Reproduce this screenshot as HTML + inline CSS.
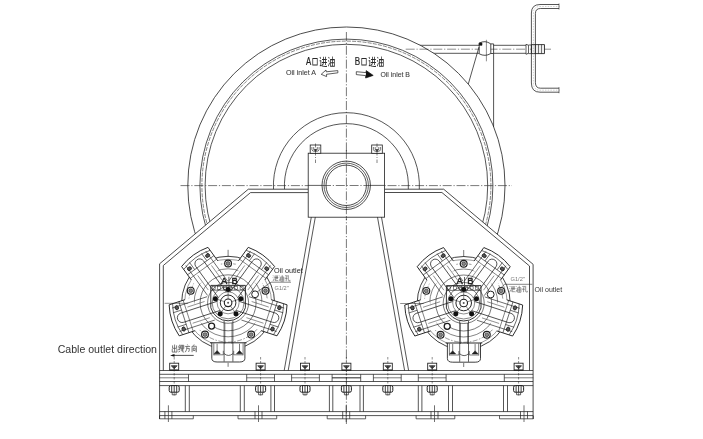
<!DOCTYPE html>
<html><head><meta charset="utf-8"><style>
html,body{margin:0;padding:0;background:#fff;width:703px;height:439px;overflow:hidden}
svg{display:block;will-change:transform}
</style></head><body>
<svg width="703" height="439" viewBox="0 0 703 439" font-family="Liberation Sans, sans-serif">
<defs>
<g id="motor" fill="none" stroke="#1e1e1e" stroke-width="0.8">
<circle r="46.5" fill="#fff" stroke-width="0.85"/>
<circle r="43.5" stroke-width="0.45"/>
<circle r="39.3" stroke-width="0.45" stroke-dasharray="5 1.5 1.5 1.5"/>
<circle r="34" stroke-width="0.55"/>
<circle r="28" stroke-width="0.6"/>
<circle r="20.5" stroke-width="0.6"/>
<g transform="rotate(-36)">
<path d="M-16.3 -32 V-56.70 A59 59 0 0 1 16.3 -56.70 V-32 Z" fill="#fff" stroke="none"/>
<path d="M-16.3 -40 V-56.70 A59 59 0 0 1 16.3 -56.70 V-40" stroke-width="0.85"/>
<path d="M-16.23 -53.07 A55.5 55.5 0 0 1 16.23 -53.07" stroke-width="0.6"/>
<path d="M-16.3 -46.5 H16.3" stroke-width="0.6"/>
<path d="M-16.3 -42 H16.3" stroke-width="0.5"/>
<path d="M-12.3 -55 V-18 M12.3 -55 V-18" stroke-width="0.6"/>
<path d="M-7.5 -55.4 V-46.5 M7.5 -55.4 V-46.5" stroke-width="0.6"/>
<path d="M-4.8 -10 V-48.3 A4.8 4.8 0 0 1 4.8 -48.3 V-10" stroke-width="0.7"/>
<path d="M-8.5 -40 V-22 M8.5 -40 V-22" stroke-width="0.45"/>
<ellipse cx="-11.2" cy="-50.3" rx="2.1" ry="1.7" fill="#555" stroke-width="0.85"/>
<ellipse cx="11.2" cy="-50.3" rx="2.1" ry="1.7" fill="#555" stroke-width="0.85"/>
</g>
<g transform="rotate(36)">
<path d="M-16.3 -32 V-56.70 A59 59 0 0 1 16.3 -56.70 V-32 Z" fill="#fff" stroke="none"/>
<path d="M-16.3 -40 V-56.70 A59 59 0 0 1 16.3 -56.70 V-40" stroke-width="0.85"/>
<path d="M-16.23 -53.07 A55.5 55.5 0 0 1 16.23 -53.07" stroke-width="0.6"/>
<path d="M-16.3 -46.5 H16.3" stroke-width="0.6"/>
<path d="M-16.3 -42 H16.3" stroke-width="0.5"/>
<path d="M-12.3 -55 V-18 M12.3 -55 V-18" stroke-width="0.6"/>
<path d="M-7.5 -55.4 V-46.5 M7.5 -55.4 V-46.5" stroke-width="0.6"/>
<path d="M-4.8 -10 V-48.3 A4.8 4.8 0 0 1 4.8 -48.3 V-10" stroke-width="0.7"/>
<path d="M-8.5 -40 V-22 M8.5 -40 V-22" stroke-width="0.45"/>
<ellipse cx="-11.2" cy="-50.3" rx="2.1" ry="1.7" fill="#555" stroke-width="0.85"/>
<ellipse cx="11.2" cy="-50.3" rx="2.1" ry="1.7" fill="#555" stroke-width="0.85"/>
</g>
<g transform="rotate(108)">
<path d="M-16.3 -32 V-56.70 A59 59 0 0 1 16.3 -56.70 V-32 Z" fill="#fff" stroke="none"/>
<path d="M-16.3 -40 V-56.70 A59 59 0 0 1 16.3 -56.70 V-40" stroke-width="0.85"/>
<path d="M-16.23 -53.07 A55.5 55.5 0 0 1 16.23 -53.07" stroke-width="0.6"/>
<path d="M-16.3 -46.5 H16.3" stroke-width="0.6"/>
<path d="M-16.3 -42 H16.3" stroke-width="0.5"/>
<path d="M-12.3 -55 V-18 M12.3 -55 V-18" stroke-width="0.6"/>
<path d="M-7.5 -55.4 V-46.5 M7.5 -55.4 V-46.5" stroke-width="0.6"/>
<path d="M-4.8 -10 V-48.3 A4.8 4.8 0 0 1 4.8 -48.3 V-10" stroke-width="0.7"/>
<path d="M-8.5 -40 V-22 M8.5 -40 V-22" stroke-width="0.45"/>
<ellipse cx="-11.2" cy="-50.3" rx="2.1" ry="1.7" fill="#555" stroke-width="0.85"/>
<ellipse cx="11.2" cy="-50.3" rx="2.1" ry="1.7" fill="#555" stroke-width="0.85"/>
</g>
<g transform="rotate(252)">
<path d="M-16.3 -32 V-56.70 A59 59 0 0 1 16.3 -56.70 V-32 Z" fill="#fff" stroke="none"/>
<path d="M-16.3 -40 V-56.70 A59 59 0 0 1 16.3 -56.70 V-40" stroke-width="0.85"/>
<path d="M-16.23 -53.07 A55.5 55.5 0 0 1 16.23 -53.07" stroke-width="0.6"/>
<path d="M-16.3 -46.5 H16.3" stroke-width="0.6"/>
<path d="M-16.3 -42 H16.3" stroke-width="0.5"/>
<path d="M-12.3 -55 V-18 M12.3 -55 V-18" stroke-width="0.6"/>
<path d="M-7.5 -55.4 V-46.5 M7.5 -55.4 V-46.5" stroke-width="0.6"/>
<path d="M-4.8 -10 V-48.3 A4.8 4.8 0 0 1 4.8 -48.3 V-10" stroke-width="0.7"/>
<path d="M-8.5 -40 V-22 M8.5 -40 V-22" stroke-width="0.45"/>
<ellipse cx="-11.2" cy="-50.3" rx="2.1" ry="1.7" fill="#555" stroke-width="0.85"/>
<ellipse cx="11.2" cy="-50.3" rx="2.1" ry="1.7" fill="#555" stroke-width="0.85"/>
</g>
<path d="M-16.3 40 V55.5 Q-16.3 59.2 -11 59.2 H11.5 Q16.8 59.2 16.8 55.5 V40" fill="#fff" stroke-width="0.85"/>
<path d="M-18 40 H18.5" stroke-width="0.95"/>
<path d="M-14.3 40.5 V52.5 M15 40.5 V52.5" stroke-width="0.6"/>
<path d="M-4 18 V58.8 M4.8 18 V58.8 M-4 50.8 Q0.4 54.5 4.8 50.8" stroke-width="0.7"/>
<path d="M-3.2 20 V41 M3.8 20 V41" stroke-width="0.5"/>
<path d="M-14.3 52 H-4.8 V48 M14.9 52 H5.6 V48" stroke-width="0.6"/>
<path d="M-14 50.9 L-11 47.8 L-8 50.9 Z M14.4 50.9 L11.4 47.8 L8.4 50.9 Z" fill="#222" stroke-width="0.5"/>
<path d="M-11 41 V48 M11.4 41 V48" stroke-width="0.6"/>
<path d="M-17.3 -17.4 H17.3 V4.97 A18 18 0 0 1 -17.3 4.97 Z" fill="none" stroke-width="0.9"/>
<path d="M-17.3 -12.6 H17.3" stroke-width="0.6"/>
<rect x="-16.0" y="-16.4" width="3" height="3" stroke-width="0.5"/>
<rect x="-10.4" y="-16.4" width="3" height="3" stroke-width="0.5"/>
<rect x="-4.8" y="-16.4" width="3" height="3" stroke-width="0.5"/>
<rect x="0.8" y="-16.4" width="3" height="3" stroke-width="0.5"/>
<rect x="6.4" y="-16.4" width="3" height="3" stroke-width="0.5"/>
<rect x="12.0" y="-16.4" width="3" height="3" stroke-width="0.5"/>
<circle r="16" stroke-width="0.55"/>
<circle r="11" stroke-width="0.5"/>
<circle r="7.8" stroke-width="0.95"/>
<circle r="3.8" stroke-width="1.1"/>
<circle r="1" fill="#555" stroke="none"/>
<path d="M0.00 -3.80 L0.00 -11.00" stroke-width="0.5"/>
<path d="M3.61 -1.17 L10.46 -3.40" stroke-width="0.5"/>
<path d="M2.23 3.07 L6.47 8.90" stroke-width="0.5"/>
<path d="M-2.23 3.07 L-6.47 8.90" stroke-width="0.5"/>
<path d="M-3.61 -1.17 L-10.46 -3.40" stroke-width="0.5"/>
<circle cx="0.00" cy="-13.40" r="2.5" fill="#111" stroke="none"/>
<circle cx="0.00" cy="-39.30" r="3.4" fill="#fff" stroke-width="1.15"/>
<circle cx="0.00" cy="-39.30" r="1.9" fill="#888" stroke-width="0.6"/>
<circle cx="12.74" cy="-4.14" r="2.5" fill="#111" stroke="none"/>
<circle cx="37.38" cy="-12.14" r="3.4" fill="#fff" stroke-width="1.15"/>
<circle cx="37.38" cy="-12.14" r="1.9" fill="#888" stroke-width="0.6"/>
<circle cx="7.88" cy="10.84" r="2.5" fill="#111" stroke="none"/>
<circle cx="23.10" cy="31.79" r="3.4" fill="#fff" stroke-width="1.15"/>
<circle cx="23.10" cy="31.79" r="1.9" fill="#888" stroke-width="0.6"/>
<circle cx="-7.88" cy="10.84" r="2.5" fill="#111" stroke="none"/>
<circle cx="-23.10" cy="31.79" r="3.4" fill="#fff" stroke-width="1.15"/>
<circle cx="-23.10" cy="31.79" r="1.9" fill="#888" stroke-width="0.6"/>
<circle cx="-12.74" cy="-4.14" r="2.5" fill="#111" stroke="none"/>
<circle cx="-37.38" cy="-12.14" r="3.4" fill="#fff" stroke-width="1.15"/>
<circle cx="-37.38" cy="-12.14" r="1.9" fill="#888" stroke-width="0.6"/>
<circle cx="27" cy="-8.5" r="3.4" fill="#fff" stroke-width="1"/>
<circle cx="-16.5" cy="23.3" r="3" fill="#fff" stroke-width="1.3"/>
<text x="-4.1" y="-18.9" font-family="Liberation Sans, sans-serif" font-size="9.4" fill="#222" stroke="#222" stroke-width="0.45" text-anchor="middle">A</text>
<text x="6.6" y="-18.9" font-family="Liberation Sans, sans-serif" font-size="9.4" fill="#222" stroke="#222" stroke-width="0.45" text-anchor="middle">B</text>
<path d="M0.8 -18 V-26" stroke-width="0.7"/>
<path d="M0 -53 V-46 M0 60 V64" stroke-width="0.6"/>
<path d="M-63.5 0.5 H-40" stroke-width="0.5"/>
</g>
</defs>
<g fill="none">
<path d="M415 45.3 H479.2 M415 53.3 H479.2 M493.6 45.3 H528.2 M493.6 53.3 H528.2" fill="none" stroke="#1e1e1e" stroke-width="0.75" />
<circle cx="346.40" cy="185.60" r="158.60" fill="#fff" stroke="#1e1e1e" stroke-width="0.8"/>
<circle cx="346.40" cy="185.60" r="146.50" fill="none" stroke="#1e1e1e" stroke-width="0.75"/>
<circle cx="346.4" cy="185.6" r="144.5" fill="none" stroke="#333" stroke-width="0.6" stroke-dasharray="4 1.2"/>
<circle cx="346.40" cy="185.60" r="141.30" fill="none" stroke="#1e1e1e" stroke-width="0.75"/>
<path d="M273.50 189.5 A73 73 0 1 1 419.30 189.5" fill="none" stroke="#1e1e1e" stroke-width="0.75" />
<path d="M284.52 189.5 A62 62 0 1 1 408.28 189.5" fill="none" stroke="#1e1e1e" stroke-width="0.75" />
<polygon points="308.20,189.20 248.30,189.20 159.60,263.80 159.60,419.00 533.10,419.00 533.10,264.30 443.70,189.20 384.60,189.20 384.60,220.00 308.20,220.00" fill="#fff" stroke="none"/>
<polyline points="308.20,189.20 248.30,189.20 159.60,263.80 159.60,419.00" fill="none" stroke="#1e1e1e" stroke-width="0.8"/>
<polyline points="308.20,192.60 250.50,192.60 163.30,265.50 163.30,370.50" fill="none" stroke="#1e1e1e" stroke-width="0.8"/>
<polyline points="384.60,189.20 443.70,189.20 533.10,264.30 533.10,419.00" fill="none" stroke="#1e1e1e" stroke-width="0.8"/>
<polyline points="384.60,192.50 441.90,192.50 529.50,266.00 529.50,370.50" fill="none" stroke="#1e1e1e" stroke-width="0.8"/>
<line x1="180.50" y1="185.60" x2="512.00" y2="185.60" stroke="#1e1e1e" stroke-width="0.6" stroke-dasharray="9 1.8 1.2 1.8"/>
<line x1="346.40" y1="32.00" x2="346.40" y2="424.00" stroke="#1e1e1e" stroke-width="0.6" stroke-dasharray="9 1.8 1.2 1.8"/>
<rect x="308.20" y="153.20" width="76.40" height="64.00" fill="#fff" stroke="#1e1e1e" stroke-width="0.8"/>
<path d="M308.2 185.4 H322 M370.4 185.4 H384.6" fill="none" stroke="#1e1e1e" stroke-width="0.7" />
<circle cx="346.20" cy="185.30" r="24.20" fill="none" stroke="#1e1e1e" stroke-width="0.8"/>
<circle cx="346.20" cy="185.30" r="22.20" fill="none" stroke="#1e1e1e" stroke-width="0.7"/>
<circle cx="346.20" cy="185.30" r="20.20" fill="none" stroke="#1e1e1e" stroke-width="0.8"/>
<line x1="322.00" y1="185.50" x2="371.00" y2="185.50" stroke="#1e1e1e" stroke-width="0.6" stroke-dasharray="9 1.8 1.2 1.8"/>
<rect x="310.20" y="145.00" width="10.60" height="8.30" fill="#fff" stroke="#1e1e1e" stroke-width="0.8"/>
<path d="M311.9 147 V149.5 Q311.9 151.5 315.5 151.5 Q319.1 151.5 319.1 149.5 V147 M313.7 147 V149.5 M317.3 147 V149.5" fill="none" stroke="#1e1e1e" stroke-width="0.6" />
<path d="M313.9 149.4 L315.5 151.6 L317.1 149.4 Z" fill="#333" stroke="#1e1e1e" stroke-width="0.5" />
<line x1="315.50" y1="143.50" x2="315.50" y2="163.00" stroke="#1e1e1e" stroke-width="0.55" stroke-dasharray="4 1.5 1 1.5"/>
<rect x="371.70" y="145.00" width="10.60" height="8.30" fill="#fff" stroke="#1e1e1e" stroke-width="0.8"/>
<path d="M373.4 147 V149.5 Q373.4 151.5 377.0 151.5 Q380.6 151.5 380.6 149.5 V147 M375.2 147 V149.5 M378.8 147 V149.5" fill="none" stroke="#1e1e1e" stroke-width="0.6" />
<path d="M375.4 149.4 L377.0 151.6 L378.6 149.4 Z" fill="#333" stroke="#1e1e1e" stroke-width="0.5" />
<line x1="377.00" y1="143.50" x2="377.00" y2="163.00" stroke="#1e1e1e" stroke-width="0.55" stroke-dasharray="4 1.5 1 1.5"/>
<line x1="346.40" y1="150.00" x2="346.40" y2="220.00" stroke="#1e1e1e" stroke-width="0.6" stroke-dasharray="9 1.8 1.2 1.8"/>
<line x1="311.30" y1="217.20" x2="284.20" y2="370.50" stroke="#1e1e1e" stroke-width="0.75" />
<line x1="381.50" y1="217.20" x2="408.60" y2="370.50" stroke="#1e1e1e" stroke-width="0.75" />
<line x1="315.30" y1="217.20" x2="288.20" y2="370.50" stroke="#1e1e1e" stroke-width="0.75" />
<line x1="377.50" y1="217.20" x2="404.60" y2="370.50" stroke="#1e1e1e" stroke-width="0.75" />
<line x1="159.60" y1="370.50" x2="533.10" y2="370.50" stroke="#1e1e1e" stroke-width="0.75" />
<line x1="159.60" y1="374.30" x2="533.10" y2="374.30" stroke="#1e1e1e" stroke-width="0.75" />
<line x1="159.60" y1="381.50" x2="533.10" y2="381.50" stroke="#1e1e1e" stroke-width="0.75" />
<line x1="159.60" y1="385.60" x2="533.10" y2="385.60" stroke="#1e1e1e" stroke-width="0.75" />
<line x1="188.50" y1="374.30" x2="188.50" y2="381.50" stroke="#1e1e1e" stroke-width="0.7" />
<line x1="504.30" y1="374.30" x2="504.30" y2="381.50" stroke="#1e1e1e" stroke-width="0.7" />
<line x1="246.70" y1="374.30" x2="246.70" y2="381.50" stroke="#1e1e1e" stroke-width="0.7" />
<line x1="446.10" y1="374.30" x2="446.10" y2="381.50" stroke="#1e1e1e" stroke-width="0.7" />
<line x1="274.50" y1="374.30" x2="274.50" y2="381.50" stroke="#1e1e1e" stroke-width="0.7" />
<line x1="418.30" y1="374.30" x2="418.30" y2="381.50" stroke="#1e1e1e" stroke-width="0.7" />
<line x1="291.60" y1="374.30" x2="291.60" y2="381.50" stroke="#1e1e1e" stroke-width="0.7" />
<line x1="401.20" y1="374.30" x2="401.20" y2="381.50" stroke="#1e1e1e" stroke-width="0.7" />
<line x1="319.40" y1="374.30" x2="319.40" y2="381.50" stroke="#1e1e1e" stroke-width="0.7" />
<line x1="373.40" y1="374.30" x2="373.40" y2="381.50" stroke="#1e1e1e" stroke-width="0.7" />
<line x1="332.10" y1="374.30" x2="332.10" y2="381.50" stroke="#1e1e1e" stroke-width="0.7" />
<line x1="360.70" y1="374.30" x2="360.70" y2="381.50" stroke="#1e1e1e" stroke-width="0.7" />
<line x1="159.50" y1="377.80" x2="188.50" y2="377.80" stroke="#1e1e1e" stroke-width="0.6" />
<line x1="533.30" y1="377.80" x2="504.30" y2="377.80" stroke="#1e1e1e" stroke-width="0.6" />
<line x1="246.70" y1="377.80" x2="274.50" y2="377.80" stroke="#1e1e1e" stroke-width="0.6" />
<line x1="446.10" y1="377.80" x2="418.30" y2="377.80" stroke="#1e1e1e" stroke-width="0.6" />
<line x1="291.60" y1="377.80" x2="319.40" y2="377.80" stroke="#1e1e1e" stroke-width="0.6" />
<line x1="401.20" y1="377.80" x2="373.40" y2="377.80" stroke="#1e1e1e" stroke-width="0.6" />
<line x1="332.10" y1="377.80" x2="360.70" y2="377.80" stroke="#1e1e1e" stroke-width="0.6" />
<line x1="360.70" y1="377.80" x2="332.10" y2="377.80" stroke="#1e1e1e" stroke-width="0.6" />
<line x1="185.30" y1="385.60" x2="185.30" y2="411.60" stroke="#1e1e1e" stroke-width="0.75" />
<line x1="507.50" y1="385.60" x2="507.50" y2="411.60" stroke="#1e1e1e" stroke-width="0.75" />
<line x1="189.30" y1="385.60" x2="189.30" y2="411.60" stroke="#1e1e1e" stroke-width="0.75" />
<line x1="503.50" y1="385.60" x2="503.50" y2="411.60" stroke="#1e1e1e" stroke-width="0.75" />
<line x1="240.30" y1="385.60" x2="240.30" y2="411.60" stroke="#1e1e1e" stroke-width="0.75" />
<line x1="452.50" y1="385.60" x2="452.50" y2="411.60" stroke="#1e1e1e" stroke-width="0.75" />
<line x1="244.30" y1="385.60" x2="244.30" y2="411.60" stroke="#1e1e1e" stroke-width="0.75" />
<line x1="448.50" y1="385.60" x2="448.50" y2="411.60" stroke="#1e1e1e" stroke-width="0.75" />
<line x1="270.90" y1="385.60" x2="270.90" y2="411.60" stroke="#1e1e1e" stroke-width="0.75" />
<line x1="421.90" y1="385.60" x2="421.90" y2="411.60" stroke="#1e1e1e" stroke-width="0.75" />
<line x1="274.50" y1="385.60" x2="274.50" y2="411.60" stroke="#1e1e1e" stroke-width="0.75" />
<line x1="418.30" y1="385.60" x2="418.30" y2="411.60" stroke="#1e1e1e" stroke-width="0.75" />
<line x1="329.40" y1="385.60" x2="329.40" y2="411.60" stroke="#1e1e1e" stroke-width="0.75" />
<line x1="363.40" y1="385.60" x2="363.40" y2="411.60" stroke="#1e1e1e" stroke-width="0.75" />
<line x1="332.80" y1="385.60" x2="332.80" y2="411.60" stroke="#1e1e1e" stroke-width="0.75" />
<line x1="360.00" y1="385.60" x2="360.00" y2="411.60" stroke="#1e1e1e" stroke-width="0.75" />
<line x1="159.60" y1="411.60" x2="533.10" y2="411.60" stroke="#1e1e1e" stroke-width="0.75" />
<line x1="159.60" y1="415.60" x2="533.10" y2="415.60" stroke="#1e1e1e" stroke-width="0.75" />
<path d="M159.5 415.6 V418.8 H193.3 V415.6" fill="none" stroke="#1e1e1e" stroke-width="0.7" />
<path d="M533.3 415.6 V418.8 H499.49999999999994 V415.6" fill="none" stroke="#1e1e1e" stroke-width="0.7" />
<path d="M238 415.6 V418.8 H276.7 V415.6" fill="none" stroke="#1e1e1e" stroke-width="0.7" />
<path d="M454.79999999999995 415.6 V418.8 H416.09999999999997 V415.6" fill="none" stroke="#1e1e1e" stroke-width="0.7" />
<path d="M327.2 415.6 V418.8 H365.59999999999997 V415.6" fill="none" stroke="#1e1e1e" stroke-width="0.7" />
<line x1="174.20" y1="357.00" x2="174.20" y2="397.00" stroke="#1e1e1e" stroke-width="0.5" stroke-dasharray="2.5 1.5"/>
<rect x="169.70" y="363.20" width="9.00" height="7.30" fill="#fff" stroke="#1e1e1e" stroke-width="0.85"/>
<path d="M171.0 365.6 H177.39999999999998 M171.6 366.2 L174.2 368.8 L176.79999999999998 366.2 Z" fill="#444" stroke="#1e1e1e" stroke-width="0.6" />
<line x1="174.20" y1="365.60" x2="174.20" y2="370.50" stroke="#1e1e1e" stroke-width="0.6" />
<line x1="169.70" y1="370.00" x2="178.70" y2="370.00" stroke="#1e1e1e" stroke-width="1.1" />
<rect x="169.20" y="385.6" width="10" height="6.6" rx="1.6" fill="#fff" stroke="#1e1e1e" stroke-width="1"/>
<path d="M171.7 385.6 V392.4 M174.2 385.6 V392.4 M176.7 385.6 V392.4" fill="none" stroke="#1e1e1e" stroke-width="0.85" />
<path d="M172.2 392.6 V394.8 H176.2 V392.6" fill="none" stroke="#1e1e1e" stroke-width="0.7" />
<line x1="260.60" y1="357.00" x2="260.60" y2="397.00" stroke="#1e1e1e" stroke-width="0.5" stroke-dasharray="2.5 1.5"/>
<rect x="256.10" y="363.20" width="9.00" height="7.30" fill="#fff" stroke="#1e1e1e" stroke-width="0.85"/>
<path d="M257.40000000000003 365.6 H263.8 M258.0 366.2 L260.6 368.8 L263.20000000000005 366.2 Z" fill="#444" stroke="#1e1e1e" stroke-width="0.6" />
<line x1="260.60" y1="365.60" x2="260.60" y2="370.50" stroke="#1e1e1e" stroke-width="0.6" />
<line x1="256.10" y1="370.00" x2="265.10" y2="370.00" stroke="#1e1e1e" stroke-width="1.1" />
<rect x="255.60" y="385.6" width="10" height="6.6" rx="1.6" fill="#fff" stroke="#1e1e1e" stroke-width="1"/>
<path d="M258.1 385.6 V392.4 M260.6 385.6 V392.4 M263.1 385.6 V392.4" fill="none" stroke="#1e1e1e" stroke-width="0.85" />
<path d="M258.6 392.6 V394.8 H262.6 V392.6" fill="none" stroke="#1e1e1e" stroke-width="0.7" />
<line x1="305.00" y1="357.00" x2="305.00" y2="397.00" stroke="#1e1e1e" stroke-width="0.5" stroke-dasharray="2.5 1.5"/>
<rect x="300.50" y="363.20" width="9.00" height="7.30" fill="#fff" stroke="#1e1e1e" stroke-width="0.85"/>
<path d="M301.8 365.6 H308.2 M302.4 366.2 L305 368.8 L307.6 366.2 Z" fill="#444" stroke="#1e1e1e" stroke-width="0.6" />
<line x1="305.00" y1="365.60" x2="305.00" y2="370.50" stroke="#1e1e1e" stroke-width="0.6" />
<line x1="300.50" y1="370.00" x2="309.50" y2="370.00" stroke="#1e1e1e" stroke-width="1.1" />
<rect x="300.00" y="385.6" width="10" height="6.6" rx="1.6" fill="#fff" stroke="#1e1e1e" stroke-width="1"/>
<path d="M302.5 385.6 V392.4 M305 385.6 V392.4 M307.5 385.6 V392.4" fill="none" stroke="#1e1e1e" stroke-width="0.85" />
<path d="M303 392.6 V394.8 H307 V392.6" fill="none" stroke="#1e1e1e" stroke-width="0.7" />
<line x1="346.40" y1="357.00" x2="346.40" y2="397.00" stroke="#1e1e1e" stroke-width="0.5" stroke-dasharray="2.5 1.5"/>
<rect x="341.90" y="363.20" width="9.00" height="7.30" fill="#fff" stroke="#1e1e1e" stroke-width="0.85"/>
<path d="M343.2 365.6 H349.59999999999997 M343.79999999999995 366.2 L346.4 368.8 L349.0 366.2 Z" fill="#444" stroke="#1e1e1e" stroke-width="0.6" />
<line x1="346.40" y1="365.60" x2="346.40" y2="370.50" stroke="#1e1e1e" stroke-width="0.6" />
<line x1="341.90" y1="370.00" x2="350.90" y2="370.00" stroke="#1e1e1e" stroke-width="1.1" />
<rect x="341.40" y="385.6" width="10" height="6.6" rx="1.6" fill="#fff" stroke="#1e1e1e" stroke-width="1"/>
<path d="M343.9 385.6 V392.4 M346.4 385.6 V392.4 M348.9 385.6 V392.4" fill="none" stroke="#1e1e1e" stroke-width="0.85" />
<path d="M344.4 392.6 V394.8 H348.4 V392.6" fill="none" stroke="#1e1e1e" stroke-width="0.7" />
<line x1="387.80" y1="357.00" x2="387.80" y2="397.00" stroke="#1e1e1e" stroke-width="0.5" stroke-dasharray="2.5 1.5"/>
<rect x="383.30" y="363.20" width="9.00" height="7.30" fill="#fff" stroke="#1e1e1e" stroke-width="0.85"/>
<path d="M384.59999999999997 365.6 H390.99999999999994 M385.19999999999993 366.2 L387.79999999999995 368.8 L390.4 366.2 Z" fill="#444" stroke="#1e1e1e" stroke-width="0.6" />
<line x1="387.80" y1="365.60" x2="387.80" y2="370.50" stroke="#1e1e1e" stroke-width="0.6" />
<line x1="383.30" y1="370.00" x2="392.30" y2="370.00" stroke="#1e1e1e" stroke-width="1.1" />
<rect x="382.80" y="385.6" width="10" height="6.6" rx="1.6" fill="#fff" stroke="#1e1e1e" stroke-width="1"/>
<path d="M385.29999999999995 385.6 V392.4 M387.79999999999995 385.6 V392.4 M390.29999999999995 385.6 V392.4" fill="none" stroke="#1e1e1e" stroke-width="0.85" />
<path d="M385.79999999999995 392.6 V394.8 H389.79999999999995 V392.6" fill="none" stroke="#1e1e1e" stroke-width="0.7" />
<line x1="432.20" y1="357.00" x2="432.20" y2="397.00" stroke="#1e1e1e" stroke-width="0.5" stroke-dasharray="2.5 1.5"/>
<rect x="427.70" y="363.20" width="9.00" height="7.30" fill="#fff" stroke="#1e1e1e" stroke-width="0.85"/>
<path d="M428.99999999999994 365.6 H435.3999999999999 M429.5999999999999 366.2 L432.19999999999993 368.8 L434.79999999999995 366.2 Z" fill="#444" stroke="#1e1e1e" stroke-width="0.6" />
<line x1="432.20" y1="365.60" x2="432.20" y2="370.50" stroke="#1e1e1e" stroke-width="0.6" />
<line x1="427.70" y1="370.00" x2="436.70" y2="370.00" stroke="#1e1e1e" stroke-width="1.1" />
<rect x="427.20" y="385.6" width="10" height="6.6" rx="1.6" fill="#fff" stroke="#1e1e1e" stroke-width="1"/>
<path d="M429.69999999999993 385.6 V392.4 M432.19999999999993 385.6 V392.4 M434.69999999999993 385.6 V392.4" fill="none" stroke="#1e1e1e" stroke-width="0.85" />
<path d="M430.19999999999993 392.6 V394.8 H434.19999999999993 V392.6" fill="none" stroke="#1e1e1e" stroke-width="0.7" />
<line x1="518.60" y1="357.00" x2="518.60" y2="397.00" stroke="#1e1e1e" stroke-width="0.5" stroke-dasharray="2.5 1.5"/>
<rect x="514.10" y="363.20" width="9.00" height="7.30" fill="#fff" stroke="#1e1e1e" stroke-width="0.85"/>
<path d="M515.3999999999999 365.6 H521.8 M515.9999999999999 366.2 L518.5999999999999 368.8 L521.1999999999999 366.2 Z" fill="#444" stroke="#1e1e1e" stroke-width="0.6" />
<line x1="518.60" y1="365.60" x2="518.60" y2="370.50" stroke="#1e1e1e" stroke-width="0.6" />
<line x1="514.10" y1="370.00" x2="523.10" y2="370.00" stroke="#1e1e1e" stroke-width="1.1" />
<rect x="513.60" y="385.6" width="10" height="6.6" rx="1.6" fill="#fff" stroke="#1e1e1e" stroke-width="1"/>
<path d="M516.0999999999999 385.6 V392.4 M518.5999999999999 385.6 V392.4 M521.0999999999999 385.6 V392.4" fill="none" stroke="#1e1e1e" stroke-width="0.85" />
<path d="M516.5999999999999 392.6 V394.8 H520.5999999999999 V392.6" fill="none" stroke="#1e1e1e" stroke-width="0.7" />
<line x1="168.40" y1="405.30" x2="168.40" y2="422.00" stroke="#333" stroke-width="0.7" />
<path d="M164.9 411.4 V418.8 M171.9 411.4 V418.8" fill="none" stroke="#1e1e1e" stroke-width="0.7" />
<line x1="258.50" y1="405.30" x2="258.50" y2="422.00" stroke="#333" stroke-width="0.7" />
<path d="M255.0 411.4 V418.8 M262.0 411.4 V418.8" fill="none" stroke="#1e1e1e" stroke-width="0.7" />
<line x1="346.20" y1="405.30" x2="346.20" y2="422.00" stroke="#333" stroke-width="0.7" />
<path d="M342.7 411.4 V418.8 M349.7 411.4 V418.8" fill="none" stroke="#1e1e1e" stroke-width="0.7" />
<line x1="434.50" y1="405.30" x2="434.50" y2="422.00" stroke="#333" stroke-width="0.7" />
<path d="M431.0 411.4 V418.8 M438.0 411.4 V418.8" fill="none" stroke="#1e1e1e" stroke-width="0.7" />
<line x1="524.00" y1="405.30" x2="524.00" y2="422.00" stroke="#333" stroke-width="0.7" />
<path d="M520.5 411.4 V418.8 M527.5 411.4 V418.8" fill="none" stroke="#1e1e1e" stroke-width="0.7" />
<line x1="405.70" y1="49.20" x2="551.00" y2="49.20" stroke="#1e1e1e" stroke-width="0.5" stroke-dasharray="9 1.8 1.2 1.8"/>
<path d="M479.2 43.2 Q485 39.8 490.8 43.9 V53.5 Q485 57 479.2 53.8 Z" fill="#fff" stroke="#1e1e1e" stroke-width="0.8" />
<path d="M490.8 43.9 H493.6 V53.5 H490.8" fill="none" stroke="#1e1e1e" stroke-width="0.8" />
<path d="M479.2 42.9 H482 V45.3 H479.2 Z" fill="#111" stroke="#1e1e1e" stroke-width="0.6" />
<line x1="486.40" y1="39.80" x2="486.40" y2="61.30" stroke="#1e1e1e" stroke-width="0.5" />
<line x1="479.00" y1="47.00" x2="468.30" y2="84.00" stroke="#1e1e1e" stroke-width="0.75" />
<line x1="493.60" y1="53.50" x2="493.60" y2="126.80" stroke="#1e1e1e" stroke-width="0.75" />
<path d="M526 44.3 L528.5 45.3 V53.3 L526 54.3 Z" fill="#fff" stroke="#1e1e1e" stroke-width="0.7" />
<path d="M528.5 45 H531.4 M528.5 53.6 H531.4" fill="none" stroke="#1e1e1e" stroke-width="0.7" />
<path d="M531.4 44.6 H544.5 V53.6 H531.4 Z" fill="#eee" stroke="#1e1e1e" stroke-width="0.85" />
<path d="M535.4 44.6 V53.6 M538.5 44.6 V53.6 M541.5 44.6 V53.6" fill="none" stroke="#1e1e1e" stroke-width="0.6" />
<path d="M559 4.5 H540 Q531.4 4.5 531.4 13 V83 Q531.4 92.2 540 92.2 H559" fill="none" stroke="#1e1e1e" stroke-width="0.75" />
<path d="M559 8.5 H540.5 Q535.4 8.5 535.4 13.5 V82.5 Q535.4 88.2 540.5 88.2 H559" fill="none" stroke="#1e1e1e" stroke-width="0.75" />
<line x1="559.00" y1="3.50" x2="559.00" y2="9.50" stroke="#1e1e1e" stroke-width="0.6" />
<line x1="559.00" y1="87.20" x2="559.00" y2="93.20" stroke="#1e1e1e" stroke-width="0.6" />
<path d="M560 6.5 H540.2 Q533.4 6.5 533.4 13.2 V82.8 Q533.4 90.2 540.2 90.2 H560" fill="none" stroke="#888" stroke-width="0.4" stroke-dasharray="1.5 1.2"/>
</g>
<use href="#motor" x="228.1" y="302.8"/>
<use href="#motor" x="463.7" y="303"/>
<text x="305.9" y="64.6" font-family="Liberation Sans, sans-serif" font-size="10.4" fill="#222" stroke="#222" stroke-width="0.2" textLength="5.2" lengthAdjust="spacingAndGlyphs">A</text>
<path transform="translate(312.20 57.20) scale(0.560 0.820)" d="M1 1.5 H9 V9.5 H1 Z" fill="none" stroke="#2a2a2a" stroke-width="1.304"/>
<path transform="translate(319.40 56.30) scale(0.770 1.050)" d="M0.6 0.8 L1.8 2.2 M0.3 4.2 H1.9 V8.2 L0.6 9.4 M1.6 8.6 Q3.5 9.8 9.8 9.6 M3.4 3 H9.6 M3.2 6 H9.8 M5.2 0.4 V6 Q5.2 7.8 3.6 8.6 M7.9 0.4 V8.2" fill="none" stroke="#2a2a2a" stroke-width="0.989"/>
<path transform="translate(328.10 56.30) scale(0.660 1.030)" d="M0.6 0.8 L1.9 2.1 M0.3 3.9 L1.6 5.2 M0.4 9.6 L2.2 6.3 M3.6 3.2 H9.6 V9.6 H3.6 Z M6.6 0.3 V9.6 M3.6 6.3 H9.6" fill="none" stroke="#2a2a2a" stroke-width="1.065"/>
<text x="354.8" y="64.6" font-family="Liberation Sans, sans-serif" font-size="10.4" fill="#222" stroke="#222" stroke-width="0.2" textLength="5.4" lengthAdjust="spacingAndGlyphs">B</text>
<path transform="translate(361.20 57.20) scale(0.560 0.820)" d="M1 1.5 H9 V9.5 H1 Z" fill="none" stroke="#2a2a2a" stroke-width="1.304"/>
<path transform="translate(368.40 56.30) scale(0.770 1.050)" d="M0.6 0.8 L1.8 2.2 M0.3 4.2 H1.9 V8.2 L0.6 9.4 M1.6 8.6 Q3.5 9.8 9.8 9.6 M3.4 3 H9.6 M3.2 6 H9.8 M5.2 0.4 V6 Q5.2 7.8 3.6 8.6 M7.9 0.4 V8.2" fill="none" stroke="#2a2a2a" stroke-width="0.989"/>
<path transform="translate(377.00 56.30) scale(0.660 1.030)" d="M0.6 0.8 L1.9 2.1 M0.3 3.9 L1.6 5.2 M0.4 9.6 L2.2 6.3 M3.6 3.2 H9.6 V9.6 H3.6 Z M6.6 0.3 V9.6 M3.6 6.3 H9.6" fill="none" stroke="#2a2a2a" stroke-width="1.065"/>
<text x="286" y="75.4" font-family="Liberation Sans, sans-serif" font-size="7.1" fill="#3a3a3a" stroke="#555" stroke-width="0.1" textLength="30" lengthAdjust="spacingAndGlyphs">Oil inlet A</text>
<text x="380.4" y="76.6" font-family="Liberation Sans, sans-serif" font-size="7.1" fill="#3a3a3a" stroke="#555" stroke-width="0.1" textLength="29.6" lengthAdjust="spacingAndGlyphs">Oil inlet B</text>
<path d="M321.2 74.3 L326 70 L326.2 71.8 L337.8 70.6 L337.9 72.8 L326.5 74.3 L326.6 76.6 Z" fill="#fff" stroke="#2a2a2a" stroke-width="0.75"/>
<path d="M356.3 71.7 L366 72.6 L366.2 70.6 L373.2 75.4 L365.6 78 L365.7 75.6 L356.3 74.6 Z" fill="#fff" stroke="#2a2a2a" stroke-width="0.75"/>
<path d="M366.2 70.6 L373.2 75.4 L365.6 78 Z" fill="#111"/>
<text x="57.7" y="352.8" font-family="Liberation Sans, sans-serif" font-size="10.6" fill="#333" textLength="99.3" lengthAdjust="spacingAndGlyphs">Cable outlet direction</text>
<path transform="translate(171.80 344.30) scale(0.560 0.820)" d="M5 0.3 V9.3 M1.4 1.3 V4.9 H8.6 V1.3 M0.8 5.6 V9.5 H9.2 V5.6" fill="none" stroke="#444" stroke-width="1.014"/>
<path transform="translate(178.20 344.30) scale(0.600 0.820)" d="M2.6 0.4 L0.6 3.6 H2.9 L0.6 6.8 L3.2 6.2 M0.4 9.4 L3.2 8.2 M4.1 1.2 H9.3 V5.4 H4.1 Z M6.7 1.2 V5.4 M4.1 3.3 H9.3 M4.4 7 H9 M6.7 5.4 V8.6 Q6.7 9.5 9.8 9.4" fill="none" stroke="#444" stroke-width="0.986"/>
<path transform="translate(184.80 344.30) scale(0.560 0.820)" d="M4.6 0.2 L5.6 1.4 M0.6 2.6 H9.4 M3.9 2.6 Q3.9 7.2 0.8 9.6 M3.7 5 H8.1 Q8.2 9.3 6.2 9.4" fill="none" stroke="#444" stroke-width="1.014"/>
<path transform="translate(191.30 344.30) scale(0.580 0.820)" d="M4.9 0.2 L3.9 1.9 M1.3 2.4 V9.6 M1.3 2.4 H8.7 V9.3 L7.6 9.2 M3.4 4.6 H6.6 V7.6 H3.4 Z" fill="none" stroke="#444" stroke-width="1.000"/>
<path d="M172 355.4 H193.7" stroke="#222" stroke-width="0.8"/>
<path d="M170.1 355.4 L174.5 354 L174.5 356.8 Z" fill="#111"/>
<text x="274.1" y="272.9" font-family="Liberation Sans, sans-serif" font-size="7.2" fill="#222" textLength="28.7" lengthAdjust="spacingAndGlyphs">Oil outlet</text>
<path transform="translate(272.80 275.00) scale(0.540 0.640)" d="M0.6 0.8 L1.9 2.1 M0.3 3.9 L1.6 5.2 M0.4 9.6 L2.2 6.3 M3 4 H9.8 M4.4 0.6 V8.8 H9.8 M6.6 0.6 V6.4 H4.4 M8.6 0.6 V6.4" fill="none" stroke="#555" stroke-width="1.017"/>
<path transform="translate(278.80 275.00) scale(0.520 0.640)" d="M0.6 0.8 L1.9 2.1 M0.3 3.9 L1.6 5.2 M0.4 9.6 L2.2 6.3 M3.6 3.2 H9.6 V9.6 H3.6 Z M6.6 0.3 V9.6 M3.6 6.3 H9.6" fill="none" stroke="#555" stroke-width="1.034"/>
<path transform="translate(284.60 275.00) scale(0.540 0.640)" d="M0.8 1.2 H5.2 L3.2 3.4 V9 L2.1 8.6 M0.4 5.2 H5.6 M6.9 0.4 V8.6 Q6.9 9.4 9.8 9.4 V7.6" fill="none" stroke="#555" stroke-width="1.017"/>
<path d="M257.6 291.6 L271 282.2 H291" stroke="#333" stroke-width="0.6" fill="none"/>
<text x="274.6" y="289.6" font-family="Liberation Sans, sans-serif" font-size="6.2" fill="#777" textLength="14.1" lengthAdjust="spacingAndGlyphs">G1/2"</text>
<text x="510.5" y="280.8" font-family="Liberation Sans, sans-serif" font-size="6.2" fill="#777" textLength="14.4" lengthAdjust="spacingAndGlyphs">G1/2"</text>
<path d="M498.5 290 L504.6 284.3 H532.3" stroke="#333" stroke-width="0.6" fill="none"/>
<path transform="translate(509.40 285.60) scale(0.560 0.690)" d="M0.6 0.8 L1.9 2.1 M0.3 3.9 L1.6 5.2 M0.4 9.6 L2.2 6.3 M3 4 H9.8 M4.4 0.6 V8.8 H9.8 M6.6 0.6 V6.4 H4.4 M8.6 0.6 V6.4" fill="none" stroke="#555" stroke-width="0.960"/>
<path transform="translate(515.60 285.60) scale(0.560 0.690)" d="M0.6 0.8 L1.9 2.1 M0.3 3.9 L1.6 5.2 M0.4 9.6 L2.2 6.3 M3.6 3.2 H9.6 V9.6 H3.6 Z M6.6 0.3 V9.6 M3.6 6.3 H9.6" fill="none" stroke="#555" stroke-width="0.960"/>
<path transform="translate(521.80 285.60) scale(0.560 0.690)" d="M0.8 1.2 H5.2 L3.2 3.4 V9 L2.1 8.6 M0.4 5.2 H5.6 M6.9 0.4 V8.6 Q6.9 9.4 9.8 9.4 V7.6" fill="none" stroke="#555" stroke-width="0.960"/>
<text x="534.5" y="291.6" font-family="Liberation Sans, sans-serif" font-size="7.1" fill="#333" textLength="27.7" lengthAdjust="spacingAndGlyphs">Oil outlet</text>
</svg>
</body></html>
